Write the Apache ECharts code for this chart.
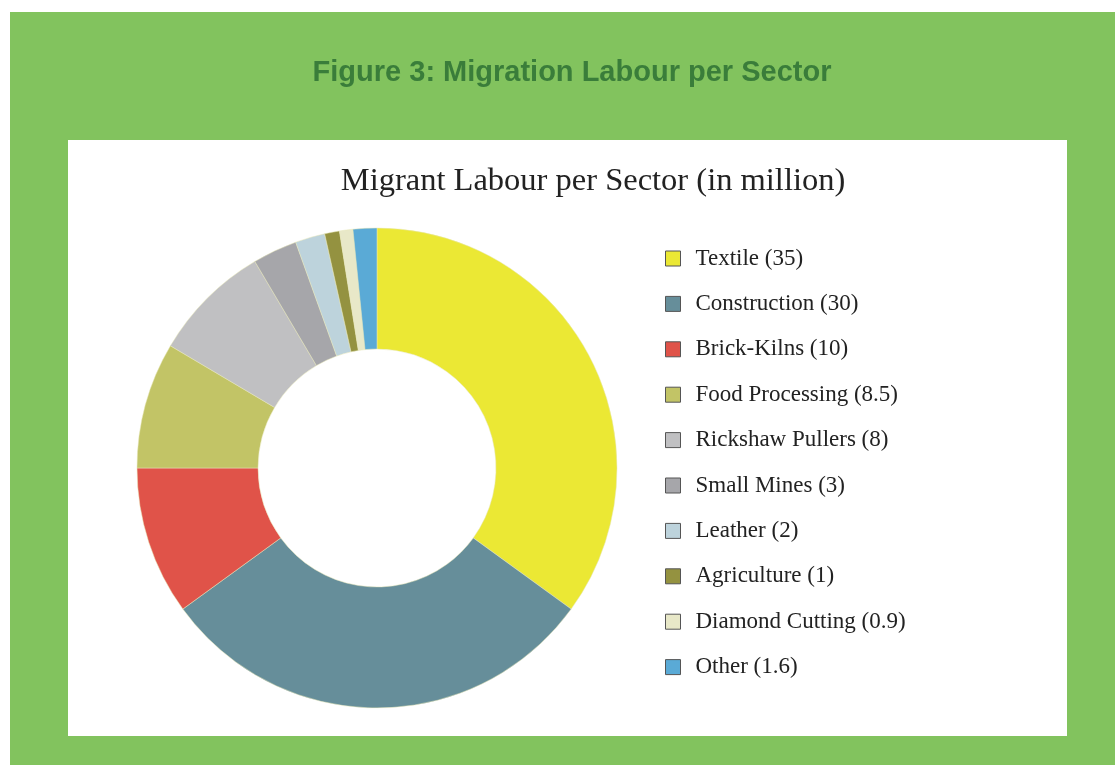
<!DOCTYPE html>
<html><head><meta charset="utf-8">
<script src="https://cdn.jsdelivr.net/npm/echarts@6/dist/echarts.min.js"></script>
<style>html,body{margin:0;padding:0;background:#fff}#c{width:1115px;height:765px}</style>
</head><body><div id="c"></div>
<script>
const categories = ["Textile","Construction","Brick-Kilns","Food Processing","Rickshaw Pullers","Small Mines","Leather","Agriculture","Diamond Cutting","Other"];
const values = [35,30,10,8.5,8,3,2,1,0.9,1.6];
const colors = ["#ebe834","#668e9a","#e05349","#c2c466","#c0c0c2","#a6a6aa","#bdd3dc","#949240","#e8e8c8","#5aaad6"];

const chart = echarts.init(document.getElementById('c'), null, {renderer:'canvas'});
const data = categories.map((n,i)=>({name:n, value:values[i], itemStyle:{color:colors[i]}}));
const valMap = {}; categories.forEach((n,i)=>valMap[n]=values[i]);

chart.setOption({
  backgroundColor:'#fff',
  graphic:[
    {type:'rect', z:-10, shape:{x:10,y:12,width:1105,height:753}, style:{fill:'#82c35e'}},
    {type:'rect', z:-9, shape:{x:68,y:140,width:999,height:596}, style:{fill:'#ffffff'}}
  ],
  title:[
    {text:'Figure 3: Migration Labour per Sector', left:567, top:53, textAlign:'center',
     textStyle:{fontFamily:'Liberation Sans, Arial, sans-serif', fontWeight:'bold', fontSize:29, color:'#3a7d3a'}},
    {text:'Migrant Labour per Sector (in million)', left:588, top:160, textAlign:'center',
     textStyle:{fontFamily:'Liberation Serif, serif', fontWeight:'normal', fontSize:32.5, color:'#222'}}
  ],
  legend:{
    orient:'vertical', left:660, top:241, itemWidth:15, itemHeight:15, itemGap:20.4,
    icon:'rect',
    itemStyle:{borderColor:'#555', borderWidth:1},
    textStyle:{fontFamily:'Liberation Serif, serif', fontSize:23, lineHeight:25, color:'#222', padding:[0,0,0,10]},
    formatter:n=>n+' ('+valMap[n]+')',
    selectedMode:false,
    data:categories
  },
  series:[{
    type:'pie', center:[377,468], radius:[119,240], startAngle:90, clockwise:true,
    animation:false, silent:true,
    label:{show:false}, labelLine:{show:false},
    itemStyle:{borderColor:'#e6e6b8', borderWidth:0.5},
    data:data
  }]
});
</script></body></html>
